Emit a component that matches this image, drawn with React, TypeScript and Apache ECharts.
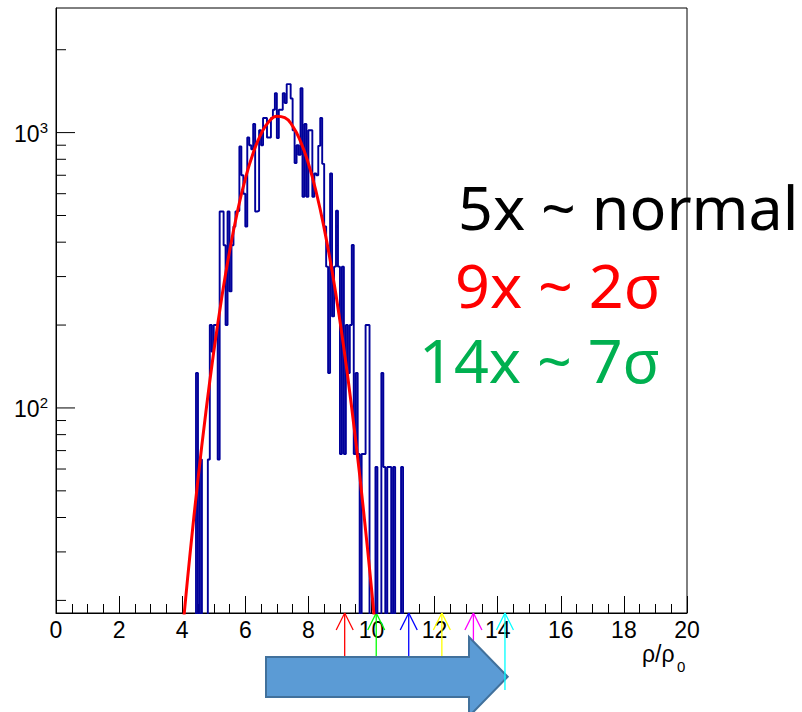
import React, { useEffect, useRef } from 'react';
import * as echarts from 'echarts';

// ---------------- data ----------------
const xMin = 0;
const xMax = 20;
const yMin = 18;
const yMax = 2835;

// histogram: fixed-width bins starting at binStart
const binStart = 4.375;
const binWidth = 0.0625;
const binCounts = [
  0, 134, 0, 65, 0, 0, 0, 65, 200, 160,
  200, 200, 65, 517, 517, 390, 200, 517, 265, 390,
  456, 517, 520, 890, 700, 600, 456, 960, 900, 870,
  1075, 517, 520, 1020, 900, 1130, 1130, 960, 960, 1130,
  1210, 1390, 955, 1210, 1210, 1390, 1280, 1500, 1500, 1330,
  1020, 776, 900, 830, 1450, 585, 1075, 585, 1020, 1020,
  585, 710, 700, 895, 1130, 770, 456, 326, 134, 710,
  215, 326, 520, 326, 68, 326, 68, 200, 134, 200,
  391, 68, 134, 68, 0, 68, 68, 200, 200, 0,
  0, 0, 61, 0, 0, 134, 61, 0, 61, 61,
  0, 61, 0, 0, 0, 61, 0,
];

// fitted curve
const fitX = [4.0, 4.1, 4.25, 4.5, 4.75, 5.0, 5.25, 5.5, 5.75, 6.0, 6.25, 6.5, 6.75, 7.0, 7.25, 7.5, 7.75, 8.0, 8.25, 8.5, 8.75, 9.0, 9.25, 9.5, 9.75, 10.0, 10.1];
const fitY = [15.0, 19.8, 29.6, 55.0, 96.5, 160, 250, 370, 516, 679, 844, 990, 1097, 1147, 1133, 1056, 929, 772, 606, 449, 314, 207, 129, 75.9, 42.1, 22.1, 16.8];

const yMajorTicks = [100, 1000];
const yMinorTicks = [20, 30, 40, 50, 60, 70, 80, 90, 200, 300, 400, 500, 600, 700, 800, 900, 2000];

const arrowX = [9.15, 10.15, 11.18, 12.23, 13.23];
const arrowColors = ['#ff0000', '#00ff00', '#0000ff', '#ffff00', '#ff00ff'];
const topArrowX = [14.23];
const topArrowColors = ['#00ffff'];

const textLines = ['5x ~ normal', '9x ~ 2σ', '14x ~ 7σ'];

const FONT = 'Liberation Sans, Arial, Helvetica, sans-serif';

export default function App() {
  const ref = useRef<HTMLDivElement>(null);

  useEffect(() => {
    if (!ref.current) return;
    const chart = echarts.init(ref.current, undefined, { renderer: 'svg' });

    const histPts: number[][] = [];
    binCounts.forEach((c, i) => {
      const lo = binStart + i * binWidth;
      const hi = lo + binWidth;
      const v = c > 0 ? c : 1;
      histPts.push([lo, v], [hi, v]);
    });
    const fitPts = fitX.map((x, i) => [x, fitY[i]]);

    const yTickData = [
      ...yMajorTicks.map((v) => [xMin, v, 1]),
      ...yMinorTicks.map((v) => [xMin, v, 0]),
    ];

    const makeArrowSeries = (xs: number[], colors: string[], shaft: number, z: number) => ({
      type: 'custom',
      silent: true,
      z,
      clip: false,
      data: xs.map((x, i) => [x, yMin, i]),
      renderItem: (params: any, api: any) => {
        const p = api.coord([api.value(0), api.value(1)]);
        const col = colors[api.value(2)];
        const st = { stroke: col, lineWidth: 1.3 };
        return {
          type: 'group',
          children: [
            { type: 'line', shape: { x1: p[0], y1: p[1], x2: p[0], y2: p[1] + shaft }, style: st },
            { type: 'line', shape: { x1: p[0], y1: p[1], x2: p[0] - 8.5, y2: p[1] + 17 }, style: st },
            { type: 'line', shape: { x1: p[0], y1: p[1], x2: p[0] + 8.5, y2: p[1] + 17 }, style: st },
          ],
        };
      },
    });

    const bigText = (text: string, x: number, y: number, fill: string) => ({
      type: 'text', x, y, z: 10, silent: true,
      style: {
        text, fill, fontSize: 61, fontFamily: 'Noto Sans',
        align: 'left', verticalAlign: 'middle', textAlign: 'left', textVerticalAlign: 'middle',
      },
    });

    const option: any = {
      animation: false,
      grid: {
        left: 56,
        top: 8,
        right: 115,
        bottom: 99,
        show: true,
        borderColor: '#000',
        borderWidth: 1,
        backgroundColor: 'transparent',
      },
      xAxis: {
        type: 'value',
        min: xMin,
        max: xMax,
        interval: 2,
        splitLine: { show: false },
        axisLine: { show: true, lineStyle: { color: '#000', width: 1 } },
        axisTick: { show: true, inside: true, length: 17, lineStyle: { color: '#000', width: 1 } },
        minorTick: { show: true, splitNumber: 4, length: 9, lineStyle: { color: '#000', width: 1 } },
        axisLabel: { color: '#000', fontSize: 23, fontFamily: FONT, margin: 5 },
      },
      yAxis: {
        type: 'log',
        logBase: 10,
        min: yMin,
        max: yMax,
        splitLine: { show: false },
        axisLine: { show: true, lineStyle: { color: '#000', width: 1 } },
        axisTick: { show: false },
        axisLabel: {
          margin: 8,
          formatter: (v: number) => {
            const l = Math.log10(v);
            if (Math.abs(l - Math.round(l)) < 1e-6) return `{b|10}{s|${Math.round(l)}}`;
            return '';
          },
          rich: {
            b: { fontSize: 23, fontFamily: FONT, color: '#000', lineHeight: 26, verticalAlign: 'bottom' },
            s: { fontSize: 15, fontFamily: FONT, color: '#000', lineHeight: 15, verticalAlign: 'top' },
          },
        },
      },
      series: [
        {
          type: 'line',
          data: histPts,
          symbol: 'none',
          clip: true,
          z: 3,
          lineStyle: { color: '#00009a', width: 1.9 },
        },
        {
          type: 'line',
          data: fitPts,
          symbol: 'none',
          smooth: true,
          clip: true,
          z: 4,
          lineStyle: { color: '#ff0000', width: 3 },
        },
        {
          type: 'custom',
          silent: true,
          z: 5,
          clip: false,
          data: yTickData,
          renderItem: (params: any, api: any) => {
            const p = api.coord([api.value(0), api.value(1)]);
            const len = api.value(2) ? 19 : 10;
            return {
              type: 'line',
              shape: { x1: p[0], y1: p[1], x2: p[0] + len, y2: p[1] },
              style: { stroke: '#000', lineWidth: 1 },
            };
          },
        },
        makeArrowSeries(arrowX, arrowColors, 44, 2),
        makeArrowSeries(topArrowX, topArrowColors, 77, 20),
      ],
      graphic: [
        {
          type: 'polygon',
          z: 10,
          silent: true,
          shape: {
            points: [
              [266, 657], [469, 657], [469, 637], [507.7, 676.7], [469, 716.4], [469, 697], [266, 697],
            ],
          },
          style: { fill: '#5b9bd5', stroke: '#41719c', lineWidth: 2 },
        },
        bigText(textLines[0], 458, 206, '#000000'),
        bigText(textLines[1], 455, 284, '#ff0000'),
        bigText(textLines[2], 419, 359, '#00b050'),
        {
          type: 'text', x: 642, y: 654, z: 10, silent: true,
          style: { text: 'ρ/ρ', fill: '#000', fontSize: 23, fontFamily: FONT, align: 'left', verticalAlign: 'middle', textAlign: 'left', textVerticalAlign: 'middle' },
        },
        {
          type: 'text', x: 677, y: 666, z: 10, silent: true,
          style: { text: '0', fill: '#000', fontSize: 15, fontFamily: FONT, align: 'left', verticalAlign: 'middle', textAlign: 'left', textVerticalAlign: 'middle' },
        },
      ],
    };

    chart.setOption(option);
    return () => chart.dispose();
  }, []);

  return (
    <div
      ref={ref}
      style={{ position: 'absolute', left: 0, top: 0, width: 802, height: 712, background: '#fff' }}
    />
  );
}
